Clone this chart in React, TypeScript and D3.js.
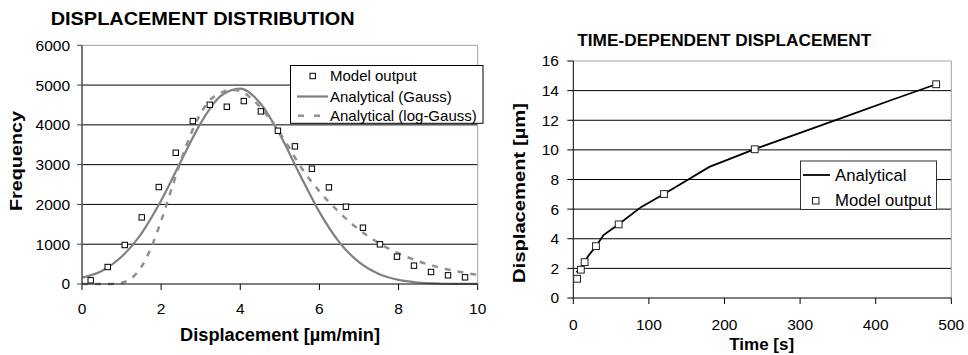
import React from "react";
import * as d3 from "d3";

// ---------- Left chart data: displacement distribution ----------
const distModelX = [0.22, 0.65, 1.08, 1.51, 1.94, 2.37, 2.8, 3.23, 3.66, 4.09, 4.52, 4.95, 5.38, 5.81, 6.24, 6.67, 7.1, 7.53, 7.96, 8.39, 8.82, 9.25, 9.68];
const distModelY = [93, 427, 980, 1675, 2437, 3299, 4095, 4505, 4455, 4598, 4339, 3852, 3460, 2897, 2429, 1943, 1415, 997, 687, 461, 302, 218, 168];

const gaussX = [0, 0.5, 1, 1.5, 2, 2.5, 3, 3.5, 4, 4.5, 5, 5.5, 6, 6.5, 7, 7.5, 8, 8.5, 9, 9.5, 10];
const gaussY = [160, 328, 684, 1268, 2097, 3085, 4045, 4723, 4913, 4551, 3756, 2761, 1807, 1054, 548, 253, 104, 38, 13, 4, 1];

const logGaussX = [0, 0.25, 0.5, 0.75, 1, 1.25, 1.5, 1.75, 2, 2.25, 2.5, 2.75, 3, 3.25, 3.5, 3.75, 4, 4.25, 4.5, 4.75, 5, 5.25, 5.5, 6, 6.5, 7, 7.5, 8, 8.5, 9, 9.5, 10];
const logGaussY = [0, 0, 0, 2, 29, 144, 429, 920, 1589, 2349, 3105, 3769, 4289, 4638, 4800, 4880, 4850, 4690, 4450, 4150, 3800, 3400, 2990, 2330, 1801, 1370, 1031, 770, 571, 423, 313, 230];

const distXTicks = [0, 2, 4, 6, 8, 10];
const distYTicks = [0, 1000, 2000, 3000, 4000, 5000, 6000];

// ---------- Right chart data: time-dependent displacement ----------
const timeModel = [5, 10, 15, 30, 60, 120, 240, 480];
const dispModel = [1.3, 1.91, 2.42, 3.5, 4.97, 7.02, 10.04, 14.43];

const timeAnalytical = [4, 10, 15, 20, 30, 40, 60, 90, 120, 180, 240, 300, 360, 420, 480];
const dispAnalytical = [1.75, 2.0, 2.45, 2.85, 3.5, 4.25, 4.98, 6.15, 7.02, 8.85, 10.05, 11.15, 12.25, 13.35, 14.43];

const timeTicks = [0, 100, 200, 300, 400, 500];
const dispTicks = [0, 2, 4, 6, 8, 10, 12, 14, 16];

const FONT = "'Liberation Sans', Arial, Helvetica, sans-serif";

export default function App() {
  // left scales
  const xL = d3.scaleLinear().domain([0, 10]).range([82, 477.7]);
  const yL = d3.scaleLinear().domain([0, 6000]).range([284, 45.3]);
  // right scales
  const xR = d3.scaleLinear().domain([0, 500]).range([573.3, 951.3]);
  const yR = d3.scaleLinear().domain([0, 16]).range([298, 61]);

  const gaussLine = d3
    .line<number>()
    .x((_, i) => xL(gaussX[i]))
    .y((d) => yL(d))
    .curve(d3.curveMonotoneX)(gaussY) as string;

  const logGaussLine = d3
    .line<number>()
    .x((_, i) => xL(logGaussX[i]))
    .y((d) => yL(d))
    .curve(d3.curveMonotoneX)(logGaussY) as string;

  const analyticalLine = d3
    .line<number>()
    .x((_, i) => xR(timeAnalytical[i]))
    .y((d) => yR(d))(dispAnalytical) as string;

  const [l0, l1] = xL.range();
  const [r0, r1] = xR.range();

  return (
    <svg
      width={968}
      height={355}
      style={{ position: "absolute", left: 0, top: 0, background: "#fff" }}
      fontFamily={FONT}
    >
      <rect x={0} y={0} width={968} height={355} fill="#fff" />

      {/* ================= LEFT CHART ================= */}
      <text x={50.7} y={25.3} fontSize={18} fontWeight="bold" textLength={304} lengthAdjust="spacingAndGlyphs">
        DISPLACEMENT DISTRIBUTION
      </text>

      {/* gridlines */}
      {distYTicks.slice(1, -1).map((v) => (
        <line key={"lg" + v} x1={l0} x2={l1} y1={yL(v)} y2={yL(v)} stroke="#000" strokeWidth={1} />
      ))}
      {/* top & right border */}
      <line x1={l0} x2={l1} y1={yL(6000)} y2={yL(6000)} stroke="#a0a0a0" strokeWidth={1} />
      <line x1={l1} x2={l1} y1={yL(6000)} y2={yL(0)} stroke="#a0a0a0" strokeWidth={1} />

      {/* y ticks */}
      {distYTicks.map((v) => (
        <g key={"lyt" + v}>
          <line x1={l0 - 5} x2={l0} y1={yL(v)} y2={yL(v)} stroke="#444" strokeWidth={1} />
          <text x={70} y={yL(v)} dy="0.35em" fontSize={15.5} textAnchor="end">
            {v}
          </text>
        </g>
      ))}
      {/* x ticks */}
      {distXTicks.map((v) => (
        <g key={"lxt" + v}>
          <line x1={xL(v)} x2={xL(v)} y1={yL(0)} y2={yL(0) + 6} stroke="#000" strokeWidth={1} />
          <text x={xL(v)} y={308.5} dy="0.35em" fontSize={15.5} textAnchor="middle">
            {v}
          </text>
        </g>
      ))}

      {/* curves */}
      <path d={gaussLine} fill="none" stroke="#808080" strokeWidth={2.2} />
      <path d={logGaussLine} fill="none" stroke="#909090" strokeWidth={2.5} strokeDasharray="6,7" />

      {/* axes */}
      <line x1={l0} x2={l0} y1={yL(6000)} y2={yL(0)} stroke="#555" strokeWidth={1.6} />
      <line x1={l0} x2={l1} y1={yL(0)} y2={yL(0)} stroke="#000" strokeWidth={1} />

      {/* model points */}
      {distModelX.map((x, i) => (
        <rect
          key={"lm" + i}
          x={xL(x) - 2.7}
          y={yL(distModelY[i]) - 2.7}
          width={5.4}
          height={5.4}
          fill="#fff"
          stroke="#000"
          strokeWidth={1}
        />
      ))}

      {/* axis titles */}
      <text x={280} y={341} fontSize={18} fontWeight="bold" textAnchor="middle" textLength={200} lengthAdjust="spacingAndGlyphs">
        Displacement [µm/min]
      </text>
      <text
        transform="translate(22,161) rotate(-90)"
        fontSize={16.5}
        fontWeight="bold"
        textAnchor="middle"
        textLength={100}
        lengthAdjust="spacingAndGlyphs"
      >
        Frequency
      </text>

      {/* legend */}
      <g>
        <rect x={290.5} y={65.5} width={192.5} height={57.8} fill="#fff" stroke="#000" strokeWidth={1} />
        <rect x={310} y={73.3} width={5.4} height={5.4} fill="#fff" stroke="#000" strokeWidth={1} />
        <text x={330} y={76} dy="0.35em" fontSize={15}>Model output</text>
        <line x1={297} x2={328} y1={96.5} y2={96.5} stroke="#808080" strokeWidth={2.2} />
        <text x={330} y={96.5} dy="0.35em" fontSize={15}>Analytical (Gauss)</text>
        <line x1={298} x2={328} y1={115.7} y2={115.7} stroke="#909090" strokeWidth={2.5} strokeDasharray="6,10" />
        <text x={330} y={115.7} dy="0.35em" fontSize={15}>Analytical (log-Gauss)</text>
      </g>

      {/* ================= RIGHT CHART ================= */}
      <text x={577.3} y={46} fontSize={16} fontWeight="bold" textLength={294} lengthAdjust="spacingAndGlyphs">
        TIME-DEPENDENT DISPLACEMENT
      </text>

      {dispTicks.slice(1, -1).map((v) => (
        <line key={"rg" + v} x1={r0} x2={r1} y1={yR(v)} y2={yR(v)} stroke="#000" strokeWidth={1} />
      ))}
      <line x1={r0} x2={r1} y1={yR(16)} y2={yR(16)} stroke="#a0a0a0" strokeWidth={1} />
      <line x1={r1} x2={r1} y1={yR(16)} y2={yR(0)} stroke="#a0a0a0" strokeWidth={1} />

      {dispTicks.map((v) => (
        <g key={"ryt" + v}>
          <line x1={r0 - 6} x2={r0} y1={yR(v)} y2={yR(v)} stroke="#000" strokeWidth={1} />
          <text x={559} y={yR(v)} dy="0.35em" fontSize={15.5} textAnchor="end">
            {v}
          </text>
        </g>
      ))}
      {timeTicks.map((v) => (
        <g key={"rxt" + v}>
          <line x1={xR(v)} x2={xR(v)} y1={yR(0)} y2={yR(0) + 6} stroke="#000" strokeWidth={1} />
          <text x={xR(v)} y={324.3} dy="0.35em" fontSize={15.5} textAnchor="middle">
            {v}
          </text>
        </g>
      ))}

      <line x1={r0} x2={r0} y1={yR(16)} y2={yR(0)} stroke="#000" strokeWidth={1} />
      <line x1={r0} x2={r1} y1={yR(0)} y2={yR(0)} stroke="#000" strokeWidth={1} />

      <path d={analyticalLine} fill="none" stroke="#000" strokeWidth={1.8} />
      {timeModel.map((t, i) => (
        <rect
          key={"rm" + i}
          x={xR(t) - 3.4}
          y={yR(dispModel[i]) - 3.4}
          width={6.8}
          height={6.8}
          fill="#fff"
          stroke="#222"
          strokeWidth={1}
        />
      ))}

      <text x={761.7} y={350} fontSize={17} fontWeight="bold" textAnchor="middle" textLength={65} lengthAdjust="spacingAndGlyphs">
        Time [s]
      </text>
      <text
        transform="translate(525,193) rotate(-90)"
        fontSize={17}
        fontWeight="bold"
        textAnchor="middle"
        textLength={180}
        lengthAdjust="spacingAndGlyphs"
      >
        Displacement [µm]
      </text>

      <g>
        <rect x={800.5} y={161} width={136} height={48.5} fill="#fff" stroke="#333" strokeWidth={1} />
        <line x1={803} x2={830} y1={175} y2={175} stroke="#000" strokeWidth={1.8} />
        <text x={835} y={175} dy="0.35em" fontSize={16.7}>Analytical</text>
        <rect x={812.5} y={197.5} width={6.5} height={6.5} fill="#fff" stroke="#222" strokeWidth={1} />
        <text x={835} y={200.5} dy="0.35em" fontSize={16.7}>Model output</text>
      </g>
    </svg>
  );
}
